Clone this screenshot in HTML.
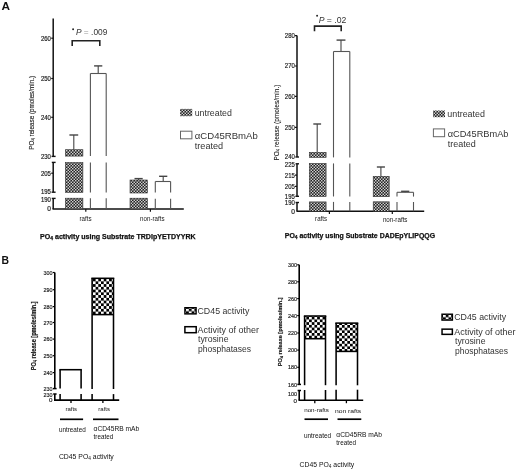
<!DOCTYPE html>
<html><head><meta charset="utf-8"><title>Figure</title>
<style>
html,body{margin:0;padding:0;background:#fff;}
body{width:520px;height:471px;overflow:hidden;}
svg{display:block;font-family:"Liberation Sans", sans-serif;will-change:transform;}
</style></head><body>
<svg width="520" height="471" viewBox="0 0 520 471">
<defs>
<pattern id="hA" width="3" height="3" patternUnits="userSpaceOnUse">
<rect width="3" height="3" fill="#222"/><rect x="0.05" y="0.05" width="1.4" height="1.4" fill="#e0e0e0"/><rect x="1.55" y="1.55" width="1.4" height="1.4" fill="#e0e0e0"/>
</pattern>
<pattern id="cB1" x="92.9" y="278.6" width="5.4" height="5.5" patternUnits="userSpaceOnUse">
<rect width="5.4" height="5.5" fill="#000"/><rect x="2.7" y="0" width="2.7" height="2.75" fill="#fff"/><rect x="0" y="2.75" width="2.7" height="2.75" fill="#fff"/>
</pattern>
<pattern id="cB2" x="306.35" y="316.75" width="5.4" height="5.42" patternUnits="userSpaceOnUse">
<rect width="5.4" height="5.42" fill="#000"/><rect x="2.7" y="0" width="2.7" height="2.71" fill="#fff"/><rect x="0" y="2.71" width="2.7" height="2.71" fill="#fff"/>
</pattern>
<pattern id="cB3" x="336.5" y="325.05" width="5.4" height="5.34" patternUnits="userSpaceOnUse">
<rect width="5.4" height="5.34" fill="#000"/><rect x="2.7" y="0" width="2.7" height="2.67" fill="#fff"/><rect x="0" y="2.67" width="2.7" height="2.67" fill="#fff"/>
</pattern>
<pattern id="cL" x="186" y="308.8" width="5.6" height="4.8" patternUnits="userSpaceOnUse">
<rect width="5.6" height="4.8" fill="#000"/><rect x="0" y="0" width="2.8" height="2.4" fill="#fff"/><rect x="2.8" y="2.4" width="2.8" height="2.4" fill="#fff"/>
</pattern>
<pattern id="cL2" x="443" y="315" width="5.5" height="4.4" patternUnits="userSpaceOnUse">
<rect width="5.5" height="4.4" fill="#000"/><rect x="0" y="0" width="2.75" height="2.2" fill="#fff"/><rect x="2.75" y="2.2" width="2.75" height="2.2" fill="#fff"/>
</pattern>
</defs>
<text x="1.5" y="10.3" font-size="11.8" text-anchor="start" font-weight="bold" fill="#111" >A</text>
<text x="1.6" y="263.8" font-size="10.4" text-anchor="start" font-weight="bold" fill="#111" >B</text>
<line x1="53.2" y1="18.5" x2="53.2" y2="156.4" stroke="#111" stroke-width="1.5"/>
<line x1="53.2" y1="162.4" x2="53.2" y2="192.2" stroke="#111" stroke-width="1.5"/>
<line x1="53.2" y1="198.4" x2="53.2" y2="209" stroke="#111" stroke-width="1.5"/>
<line x1="51.6" y1="156.4" x2="55.6" y2="156.4" stroke="#111" stroke-width="1.4"/>
<line x1="51.8" y1="162.4" x2="55.6" y2="162.4" stroke="#111" stroke-width="1.4"/>
<line x1="51.6" y1="192.2" x2="55.6" y2="192.2" stroke="#111" stroke-width="1.4"/>
<line x1="51.8" y1="198.4" x2="55.6" y2="198.4" stroke="#111" stroke-width="1.4"/>
<line x1="51.2" y1="38.2" x2="53.2" y2="38.2" stroke="#111" stroke-width="1.2"/>
<line x1="51.2" y1="78.5" x2="53.2" y2="78.5" stroke="#111" stroke-width="1.2"/>
<line x1="51.2" y1="117.3" x2="53.2" y2="117.3" stroke="#111" stroke-width="1.2"/>
<line x1="51.2" y1="173.2" x2="53.2" y2="173.2" stroke="#111" stroke-width="1.2"/>
<text x="50.9" y="40.5" font-size="6.6" text-anchor="end" font-weight="normal" fill="#1a1a1a" textLength="10.0" lengthAdjust="spacingAndGlyphs" stroke="#1a1a1a" stroke-width="0.18">260</text>
<text x="50.9" y="80.8" font-size="6.6" text-anchor="end" font-weight="normal" fill="#1a1a1a" textLength="10.0" lengthAdjust="spacingAndGlyphs" stroke="#1a1a1a" stroke-width="0.18">250</text>
<text x="50.9" y="119.6" font-size="6.6" text-anchor="end" font-weight="normal" fill="#1a1a1a" textLength="10.0" lengthAdjust="spacingAndGlyphs" stroke="#1a1a1a" stroke-width="0.18">240</text>
<text x="50.9" y="158.70000000000002" font-size="6.6" text-anchor="end" font-weight="normal" fill="#1a1a1a" textLength="10.0" lengthAdjust="spacingAndGlyphs" stroke="#1a1a1a" stroke-width="0.18">230</text>
<text x="50.9" y="175.70000000000002" font-size="6.6" text-anchor="end" font-weight="normal" fill="#1a1a1a" textLength="10.0" lengthAdjust="spacingAndGlyphs" stroke="#1a1a1a" stroke-width="0.18">205</text>
<text x="50.9" y="194.3" font-size="6.6" text-anchor="end" font-weight="normal" fill="#1a1a1a" textLength="10.0" lengthAdjust="spacingAndGlyphs" stroke="#1a1a1a" stroke-width="0.18">195</text>
<text x="50.9" y="201.9" font-size="6.6" text-anchor="end" font-weight="normal" fill="#1a1a1a" textLength="10.0" lengthAdjust="spacingAndGlyphs" stroke="#1a1a1a" stroke-width="0.18">190</text>
<text x="50.9" y="211.10000000000002" font-size="6.6" text-anchor="end" font-weight="normal" fill="#1a1a1a" stroke="#1a1a1a" stroke-width="0.18">0</text>
<line x1="52.5" y1="209" x2="183.8" y2="209" stroke="#111" stroke-width="1.6"/>
<line x1="85.8" y1="209" x2="85.8" y2="211.8" stroke="#111" stroke-width="1.2"/>
<line x1="150.4" y1="209" x2="150.4" y2="211.8" stroke="#111" stroke-width="1.2"/>
<text x="85.5" y="221.2" font-size="6.4" text-anchor="middle" font-weight="normal" fill="#1a1a1a" textLength="12.1" lengthAdjust="spacingAndGlyphs" >rafts</text>
<text x="152.3" y="221.4" font-size="6.4" text-anchor="middle" font-weight="normal" fill="#1a1a1a" textLength="24.4" lengthAdjust="spacingAndGlyphs" >non-rafts</text>
<text transform="translate(34.4,149.7) rotate(-90)" x="0" y="0" font-size="6.6" font-weight="normal" fill="#222" textLength="73.7" lengthAdjust="spacingAndGlyphs" stroke="#222" stroke-width="0.12">PO<tspan font-size="4.5" dy="1">4</tspan><tspan dy="-1"> release (pmoles/min.)</tspan></text>
<line x1="73.8" y1="149.7" x2="73.8" y2="135" stroke="#444" stroke-width="1.1"/>
<line x1="69.39999999999999" y1="135" x2="78.2" y2="135" stroke="#444" stroke-width="1.4000000000000001"/>
<rect x="65.4" y="149.7" width="17.5" height="6.400000000000006" fill="url(#hA)" stroke="#333" stroke-width="0.6"/>
<rect x="65.4" y="162.5" width="17.5" height="29.900000000000006" fill="url(#hA)" stroke="#333" stroke-width="0.6"/>
<rect x="65.4" y="198.2" width="17.5" height="10.800000000000011" fill="url(#hA)" stroke="#333" stroke-width="0.6"/>
<line x1="98.2" y1="73.5" x2="98.2" y2="65.9" stroke="#444" stroke-width="1.1"/>
<line x1="94.10000000000001" y1="65.9" x2="102.3" y2="65.9" stroke="#444" stroke-width="1.4000000000000001"/>
<line x1="90.4" y1="73.5" x2="106.2" y2="73.5" stroke="#555" stroke-width="1.1"/>
<line x1="90.4" y1="73.5" x2="90.4" y2="156.1" stroke="#555" stroke-width="1.1"/>
<line x1="106.2" y1="73.5" x2="106.2" y2="156.1" stroke="#555" stroke-width="1.1"/>
<line x1="90.4" y1="162.5" x2="90.4" y2="192.4" stroke="#555" stroke-width="1.1"/>
<line x1="106.2" y1="162.5" x2="106.2" y2="192.4" stroke="#555" stroke-width="1.1"/>
<line x1="90.4" y1="198.2" x2="90.4" y2="209" stroke="#555" stroke-width="1.1"/>
<line x1="106.2" y1="198.2" x2="106.2" y2="209" stroke="#555" stroke-width="1.1"/>
<line x1="138.6" y1="180" x2="138.6" y2="178.6" stroke="#444" stroke-width="1.1"/>
<line x1="134.5" y1="178.6" x2="142.7" y2="178.6" stroke="#444" stroke-width="1.4000000000000001"/>
<rect x="130" y="180" width="17.400000000000006" height="13" fill="url(#hA)" stroke="#333" stroke-width="0.6"/>
<rect x="130" y="198.2" width="17.400000000000006" height="10.800000000000011" fill="url(#hA)" stroke="#333" stroke-width="0.6"/>
<line x1="163.2" y1="181.5" x2="163.2" y2="176.3" stroke="#444" stroke-width="1.1"/>
<line x1="159.1" y1="176.3" x2="167.29999999999998" y2="176.3" stroke="#444" stroke-width="1.4000000000000001"/>
<line x1="155.3" y1="181.5" x2="170.6" y2="181.5" stroke="#555" stroke-width="1.1"/>
<line x1="155.3" y1="181.5" x2="155.3" y2="192.6" stroke="#555" stroke-width="1.1"/>
<line x1="170.6" y1="181.5" x2="170.6" y2="192.6" stroke="#555" stroke-width="1.1"/>
<line x1="155.3" y1="198.8" x2="155.3" y2="209" stroke="#555" stroke-width="1.1"/>
<line x1="170.6" y1="198.8" x2="170.6" y2="209" stroke="#555" stroke-width="1.1"/>
<circle cx="73.1" cy="29.3" r="0.95" fill="#222"/>
<text x="76" y="34.9" font-size="8.3" fill="#333" textLength="31.3" lengthAdjust="spacingAndGlyphs"><tspan font-style="italic">P</tspan> <tspan fill="#999">=</tspan> .009</text>
<path d="M72.2 46 V40.7 H99.8 V46" fill="none" stroke="#222" stroke-width="1.6"/>
<rect x="180.1" y="108.9" width="12.1" height="7.3" fill="url(#hA)" stroke="none" stroke-width="1"/>
<text x="194.7" y="115.8" font-size="8.8" text-anchor="start" font-weight="normal" fill="#333" textLength="37.2" lengthAdjust="spacingAndGlyphs" >untreated</text>
<rect x="180.5" y="131.2" width="11.4" height="7.6" fill="#fff" stroke="#666" stroke-width="1"/>
<text x="194.8" y="139.0" font-size="8.7" text-anchor="start" font-weight="normal" fill="#333" textLength="63" lengthAdjust="spacingAndGlyphs" >αCD45RBmAb</text>
<text x="194.8" y="149.0" font-size="8.8" text-anchor="start" font-weight="normal" fill="#333" textLength="28.4" lengthAdjust="spacingAndGlyphs" >treated</text>
<text x="40.1" y="238.8" font-size="7" font-weight="bold" fill="#111" stroke="#111" stroke-width="0.25" textLength="155.5" lengthAdjust="spacingAndGlyphs">PO<tspan font-size="5" dy="1">4</tspan><tspan dy="-1"> activity using Substrate TRDIpYETDYYRK</tspan></text>
<line x1="297" y1="35.5" x2="297" y2="157" stroke="#111" stroke-width="1.5"/>
<line x1="297" y1="163.8" x2="297" y2="196.3" stroke="#111" stroke-width="1.5"/>
<line x1="297" y1="202.5" x2="297" y2="211.3" stroke="#111" stroke-width="1.5"/>
<line x1="295.4" y1="157" x2="299" y2="157" stroke="#111" stroke-width="1.4"/>
<line x1="295.6" y1="163.8" x2="299" y2="163.8" stroke="#111" stroke-width="1.4"/>
<line x1="295.4" y1="196.3" x2="299" y2="196.3" stroke="#111" stroke-width="1.4"/>
<line x1="295.6" y1="202.5" x2="299" y2="202.5" stroke="#111" stroke-width="1.4"/>
<line x1="295" y1="35.7" x2="297" y2="35.7" stroke="#111" stroke-width="1.2"/>
<line x1="295" y1="66" x2="297" y2="66" stroke="#111" stroke-width="1.2"/>
<line x1="295" y1="96.3" x2="297" y2="96.3" stroke="#111" stroke-width="1.2"/>
<line x1="295" y1="127.4" x2="297" y2="127.4" stroke="#111" stroke-width="1.2"/>
<line x1="295" y1="175.2" x2="297" y2="175.2" stroke="#111" stroke-width="1.2"/>
<line x1="295" y1="186.4" x2="297" y2="186.4" stroke="#111" stroke-width="1.2"/>
<text x="294.8" y="38.0" font-size="6.6" text-anchor="end" font-weight="normal" fill="#1a1a1a" textLength="10.0" lengthAdjust="spacingAndGlyphs" stroke="#1a1a1a" stroke-width="0.18">280</text>
<text x="294.8" y="68.3" font-size="6.6" text-anchor="end" font-weight="normal" fill="#1a1a1a" textLength="10.0" lengthAdjust="spacingAndGlyphs" stroke="#1a1a1a" stroke-width="0.18">270</text>
<text x="294.8" y="98.6" font-size="6.6" text-anchor="end" font-weight="normal" fill="#1a1a1a" textLength="10.0" lengthAdjust="spacingAndGlyphs" stroke="#1a1a1a" stroke-width="0.18">260</text>
<text x="294.8" y="129.70000000000002" font-size="6.6" text-anchor="end" font-weight="normal" fill="#1a1a1a" textLength="10.0" lengthAdjust="spacingAndGlyphs" stroke="#1a1a1a" stroke-width="0.18">250</text>
<text x="294.8" y="159.3" font-size="6.6" text-anchor="end" font-weight="normal" fill="#1a1a1a" textLength="10.0" lengthAdjust="spacingAndGlyphs" stroke="#1a1a1a" stroke-width="0.18">240</text>
<text x="294.8" y="166.5" font-size="6.6" text-anchor="end" font-weight="normal" fill="#1a1a1a" textLength="10.0" lengthAdjust="spacingAndGlyphs" stroke="#1a1a1a" stroke-width="0.18">225</text>
<text x="294.8" y="177.5" font-size="6.6" text-anchor="end" font-weight="normal" fill="#1a1a1a" textLength="10.0" lengthAdjust="spacingAndGlyphs" stroke="#1a1a1a" stroke-width="0.18">215</text>
<text x="294.8" y="188.70000000000002" font-size="6.6" text-anchor="end" font-weight="normal" fill="#1a1a1a" textLength="10.0" lengthAdjust="spacingAndGlyphs" stroke="#1a1a1a" stroke-width="0.18">205</text>
<text x="294.8" y="198.60000000000002" font-size="6.6" text-anchor="end" font-weight="normal" fill="#1a1a1a" textLength="10.0" lengthAdjust="spacingAndGlyphs" stroke="#1a1a1a" stroke-width="0.18">195</text>
<text x="294.8" y="205.3" font-size="6.6" text-anchor="end" font-weight="normal" fill="#1a1a1a" textLength="10.0" lengthAdjust="spacingAndGlyphs" stroke="#1a1a1a" stroke-width="0.18">190</text>
<text x="294.8" y="213.5" font-size="6.6" text-anchor="end" font-weight="normal" fill="#1a1a1a" stroke="#1a1a1a" stroke-width="0.18">0</text>
<line x1="296.5" y1="211.3" x2="424.2" y2="211.3" stroke="#111" stroke-width="1.6"/>
<line x1="329.4" y1="211.3" x2="329.4" y2="214" stroke="#111" stroke-width="1.2"/>
<line x1="392.3" y1="211.3" x2="392.3" y2="214" stroke="#111" stroke-width="1.2"/>
<text x="321.1" y="221.4" font-size="6.4" text-anchor="middle" font-weight="normal" fill="#1a1a1a" textLength="12" lengthAdjust="spacingAndGlyphs" >rafts</text>
<text x="395.2" y="221.8" font-size="6.4" text-anchor="middle" font-weight="normal" fill="#1a1a1a" textLength="24.6" lengthAdjust="spacingAndGlyphs" >non-rafts</text>
<text transform="translate(278.8,160.6) rotate(-90)" x="0" y="0" font-size="7.4" font-weight="normal" fill="#222" textLength="76" lengthAdjust="spacingAndGlyphs" stroke="#222" stroke-width="0.12">PO<tspan font-size="4.8" dy="1">4</tspan><tspan dy="-1"> release (pmoles/min.)</tspan></text>
<line x1="317.2" y1="152.3" x2="317.2" y2="124" stroke="#444" stroke-width="1.1"/>
<line x1="313.3" y1="124" x2="321.09999999999997" y2="124" stroke="#444" stroke-width="1.4000000000000001"/>
<rect x="309.3" y="152.3" width="16.80000000000001" height="5.099999999999994" fill="url(#hA)" stroke="#333" stroke-width="0.6"/>
<rect x="309.3" y="163.4" width="16.80000000000001" height="33.099999999999994" fill="url(#hA)" stroke="#333" stroke-width="0.6"/>
<rect x="309.3" y="201.9" width="16.80000000000001" height="9.400000000000006" fill="url(#hA)" stroke="#333" stroke-width="0.6"/>
<line x1="341" y1="51.5" x2="341" y2="40.1" stroke="#444" stroke-width="1.1"/>
<line x1="336.55" y1="40.1" x2="345.45" y2="40.1" stroke="#444" stroke-width="1.4000000000000001"/>
<line x1="333.5" y1="51.5" x2="349.8" y2="51.5" stroke="#555" stroke-width="1.1"/>
<line x1="333.5" y1="51.5" x2="333.5" y2="157.4" stroke="#555" stroke-width="1.1"/>
<line x1="349.8" y1="51.5" x2="349.8" y2="157.4" stroke="#555" stroke-width="1.1"/>
<line x1="333.5" y1="163.4" x2="333.5" y2="196.5" stroke="#555" stroke-width="1.1"/>
<line x1="349.8" y1="163.4" x2="349.8" y2="196.5" stroke="#555" stroke-width="1.1"/>
<line x1="333.5" y1="201.9" x2="333.5" y2="211.3" stroke="#555" stroke-width="1.1"/>
<line x1="349.8" y1="201.9" x2="349.8" y2="211.3" stroke="#555" stroke-width="1.1"/>
<line x1="380.9" y1="176.3" x2="380.9" y2="167" stroke="#444" stroke-width="1.1"/>
<line x1="376.84999999999997" y1="167" x2="384.95" y2="167" stroke="#444" stroke-width="1.4000000000000001"/>
<rect x="373.2" y="176.3" width="16.0" height="20.399999999999977" fill="url(#hA)" stroke="#333" stroke-width="0.6"/>
<rect x="373.2" y="201.8" width="16.0" height="9.5" fill="url(#hA)" stroke="#333" stroke-width="0.6"/>
<line x1="405.2" y1="192.3" x2="405.2" y2="191.3" stroke="#444" stroke-width="1.1"/>
<line x1="401.09999999999997" y1="191.3" x2="409.3" y2="191.3" stroke="#444" stroke-width="1.4000000000000001"/>
<line x1="397" y1="192.3" x2="413.5" y2="192.3" stroke="#555" stroke-width="1.1"/>
<line x1="397" y1="192.3" x2="397" y2="196.6" stroke="#555" stroke-width="1.1"/>
<line x1="413.5" y1="192.3" x2="413.5" y2="196.6" stroke="#555" stroke-width="1.1"/>
<line x1="397" y1="202" x2="397" y2="211.3" stroke="#555" stroke-width="1.1"/>
<line x1="413.5" y1="202" x2="413.5" y2="211.3" stroke="#555" stroke-width="1.1"/>
<circle cx="317.1" cy="15.8" r="0.95" fill="#222"/>
<text x="318.7" y="22.7" font-size="8.5" fill="#333" textLength="27.6" lengthAdjust="spacingAndGlyphs"><tspan font-style="italic">P</tspan> = .02</text>
<path d="M314.5 31.2 V26.1 H341.2 V31.2" fill="none" stroke="#222" stroke-width="1.6"/>
<rect x="433" y="110.5" width="12" height="6.7" fill="url(#hA)" stroke="none" stroke-width="1"/>
<text x="447.3" y="116.6" font-size="8.8" text-anchor="start" font-weight="normal" fill="#333" textLength="37.7" lengthAdjust="spacingAndGlyphs" >untreated</text>
<rect x="433.4" y="128.9" width="11.2" height="7.8" fill="#fff" stroke="#666" stroke-width="1"/>
<text x="447.7" y="136.8" font-size="8.8" text-anchor="start" font-weight="normal" fill="#333" textLength="60.8" lengthAdjust="spacingAndGlyphs" >αCD45RBmAb</text>
<text x="447.7" y="146.9" font-size="8.8" text-anchor="start" font-weight="normal" fill="#333" textLength="28" lengthAdjust="spacingAndGlyphs" >treated</text>
<text x="284.8" y="238.1" font-size="7" font-weight="bold" fill="#111" stroke="#111" stroke-width="0.25" textLength="150.3" lengthAdjust="spacingAndGlyphs">PO<tspan font-size="5" dy="1">4</tspan><tspan dy="-1"> activity using Substrate DADEpYLIPQQG</tspan></text>
<line x1="54.8" y1="272.5" x2="54.8" y2="388.6" stroke="#000" stroke-width="1.6"/>
<line x1="54.8" y1="394" x2="54.8" y2="400" stroke="#000" stroke-width="1.6"/>
<line x1="53" y1="388.6" x2="56.6" y2="388.6" stroke="#000" stroke-width="1.5"/>
<line x1="53.2" y1="394" x2="56.6" y2="394" stroke="#000" stroke-width="1.5"/>
<line x1="52.8" y1="272.5" x2="54.8" y2="272.5" stroke="#000" stroke-width="1.2"/>
<line x1="52.8" y1="289.7" x2="54.8" y2="289.7" stroke="#000" stroke-width="1.2"/>
<line x1="52.8" y1="306.6" x2="54.8" y2="306.6" stroke="#000" stroke-width="1.2"/>
<line x1="52.8" y1="322.5" x2="54.8" y2="322.5" stroke="#000" stroke-width="1.2"/>
<line x1="52.8" y1="339.1" x2="54.8" y2="339.1" stroke="#000" stroke-width="1.2"/>
<line x1="52.8" y1="355.7" x2="54.8" y2="355.7" stroke="#000" stroke-width="1.2"/>
<line x1="52.8" y1="372.6" x2="54.8" y2="372.6" stroke="#000" stroke-width="1.2"/>
<text x="52.4" y="274.6" font-size="6.2" text-anchor="end" font-weight="normal" fill="#1a1a1a" textLength="9.0" lengthAdjust="spacingAndGlyphs" stroke="#1a1a1a" stroke-width="0.18">300</text>
<text x="52.4" y="291.8" font-size="6.2" text-anchor="end" font-weight="normal" fill="#1a1a1a" textLength="9.0" lengthAdjust="spacingAndGlyphs" stroke="#1a1a1a" stroke-width="0.18">290</text>
<text x="52.4" y="308.70000000000005" font-size="6.2" text-anchor="end" font-weight="normal" fill="#1a1a1a" textLength="9.0" lengthAdjust="spacingAndGlyphs" stroke="#1a1a1a" stroke-width="0.18">280</text>
<text x="52.4" y="324.6" font-size="6.2" text-anchor="end" font-weight="normal" fill="#1a1a1a" textLength="9.0" lengthAdjust="spacingAndGlyphs" stroke="#1a1a1a" stroke-width="0.18">270</text>
<text x="52.4" y="341.20000000000005" font-size="6.2" text-anchor="end" font-weight="normal" fill="#1a1a1a" textLength="9.0" lengthAdjust="spacingAndGlyphs" stroke="#1a1a1a" stroke-width="0.18">260</text>
<text x="52.4" y="357.8" font-size="6.2" text-anchor="end" font-weight="normal" fill="#1a1a1a" textLength="9.0" lengthAdjust="spacingAndGlyphs" stroke="#1a1a1a" stroke-width="0.18">250</text>
<text x="52.4" y="374.70000000000005" font-size="6.2" text-anchor="end" font-weight="normal" fill="#1a1a1a" textLength="9.0" lengthAdjust="spacingAndGlyphs" stroke="#1a1a1a" stroke-width="0.18">240</text>
<text x="52.4" y="390.70000000000005" font-size="6.2" text-anchor="end" font-weight="normal" fill="#1a1a1a" textLength="9.0" lengthAdjust="spacingAndGlyphs" stroke="#1a1a1a" stroke-width="0.18">230</text>
<text x="52.4" y="397.1" font-size="6.2" text-anchor="end" font-weight="normal" fill="#1a1a1a" textLength="9.0" lengthAdjust="spacingAndGlyphs" stroke="#1a1a1a" stroke-width="0.18">230</text>
<text x="52.4" y="402.1" font-size="6.2" text-anchor="end" font-weight="normal" fill="#1a1a1a" stroke="#1a1a1a" stroke-width="0.18">0</text>
<line x1="54" y1="400.1" x2="119.2" y2="400.1" stroke="#000" stroke-width="1.6"/>
<line x1="71" y1="400" x2="71" y2="403" stroke="#000" stroke-width="1.3"/>
<line x1="102.9" y1="400" x2="102.9" y2="403" stroke="#000" stroke-width="1.3"/>
<line x1="59.325" y1="369.7" x2="81.875" y2="369.7" stroke="#000" stroke-width="1.55"/>
<line x1="60.1" y1="369.7" x2="60.1" y2="388.6" stroke="#000" stroke-width="1.55"/>
<line x1="81.1" y1="369.7" x2="81.1" y2="388.6" stroke="#000" stroke-width="1.55"/>
<line x1="60.1" y1="394" x2="60.1" y2="400" stroke="#000" stroke-width="1.55"/>
<line x1="81.1" y1="394" x2="81.1" y2="400" stroke="#000" stroke-width="1.55"/>
<rect x="92.1" y="278.3" width="21.400000000000006" height="36.30000000000001" fill="url(#cB1)" stroke="none" stroke-width="1"/>
<line x1="92.1" y1="314.6" x2="113.5" y2="314.6" stroke="#000" stroke-width="1.55"/>
<line x1="91.32499999999999" y1="278.3" x2="114.275" y2="278.3" stroke="#000" stroke-width="1.55"/>
<line x1="92.1" y1="278.3" x2="92.1" y2="389" stroke="#000" stroke-width="1.55"/>
<line x1="113.5" y1="278.3" x2="113.5" y2="389" stroke="#000" stroke-width="1.55"/>
<line x1="92.1" y1="394.1" x2="92.1" y2="400" stroke="#000" stroke-width="1.55"/>
<line x1="113.5" y1="394.1" x2="113.5" y2="400" stroke="#000" stroke-width="1.55"/>
<text x="71.3" y="411.3" font-size="6" text-anchor="middle" font-weight="normal" fill="#111" >rafts</text>
<text x="104.2" y="411.2" font-size="6" text-anchor="middle" font-weight="normal" fill="#111" >rafts</text>
<line x1="60" y1="419.3" x2="83.1" y2="419.3" stroke="#000" stroke-width="1.7"/>
<line x1="93" y1="419.3" x2="118.5" y2="419.3" stroke="#000" stroke-width="1.7"/>
<text x="58.9" y="431.5" font-size="6.3" text-anchor="start" font-weight="normal" fill="#111" textLength="26.8" lengthAdjust="spacingAndGlyphs" >untreated</text>
<text x="93.6" y="431.4" font-size="6.3" text-anchor="start" font-weight="normal" fill="#111" textLength="45.5" lengthAdjust="spacingAndGlyphs" >αCD45RB mAb</text>
<text x="93.6" y="438.9" font-size="6.3" text-anchor="start" font-weight="normal" fill="#111" textLength="19.6" lengthAdjust="spacingAndGlyphs" >treated</text>
<text x="58.9" y="458.9" font-size="6.6" fill="#111" textLength="54.9" lengthAdjust="spacingAndGlyphs">CD45 PO<tspan font-size="4.6" dy="1">4</tspan><tspan dy="-1"> activity</tspan></text>
<text transform="translate(36.3,370.3) rotate(-90)" x="0" y="0" font-size="6.5" font-weight="bold" fill="#111" textLength="69.0" lengthAdjust="spacingAndGlyphs" stroke="#111" stroke-width="0.15">PO<tspan font-size="4.5" dy="1">4</tspan><tspan dy="-1"> release [pmoles/min.]</tspan></text>
<rect x="184.9" y="307.7" width="11.2" height="6.2" fill="url(#cL)" stroke="#000" stroke-width="1.4"/>
<text x="197.5" y="313.8" font-size="9" text-anchor="start" font-weight="normal" fill="#333" textLength="51.9" lengthAdjust="spacingAndGlyphs" >CD45 activity</text>
<rect x="184.9" y="326.7" width="11.3" height="6.0" fill="#fff" stroke="#000" stroke-width="1.5"/>
<text x="197.5" y="332.5" font-size="9" text-anchor="start" font-weight="normal" fill="#333" textLength="61.4" lengthAdjust="spacingAndGlyphs" >Activity of other</text>
<text x="198" y="342.4" font-size="9" text-anchor="start" font-weight="normal" fill="#333" textLength="30.5" lengthAdjust="spacingAndGlyphs" >tyrosine</text>
<text x="198" y="351.9" font-size="9" text-anchor="start" font-weight="normal" fill="#333" textLength="53.1" lengthAdjust="spacingAndGlyphs" >phosphatases</text>
<line x1="299.2" y1="264.8" x2="299.2" y2="384.4" stroke="#000" stroke-width="1.6"/>
<line x1="299.2" y1="390.5" x2="299.2" y2="400.2" stroke="#000" stroke-width="1.6"/>
<line x1="297.4" y1="384.4" x2="301" y2="384.4" stroke="#000" stroke-width="1.5"/>
<line x1="297.6" y1="390.5" x2="301" y2="390.5" stroke="#000" stroke-width="1.5"/>
<line x1="297.2" y1="264.8" x2="299.2" y2="264.8" stroke="#000" stroke-width="1.2"/>
<line x1="297.2" y1="281.8" x2="299.2" y2="281.8" stroke="#000" stroke-width="1.2"/>
<line x1="297.2" y1="298.6" x2="299.2" y2="298.6" stroke="#000" stroke-width="1.2"/>
<line x1="297.2" y1="315.6" x2="299.2" y2="315.6" stroke="#000" stroke-width="1.2"/>
<line x1="297.2" y1="333" x2="299.2" y2="333" stroke="#000" stroke-width="1.2"/>
<line x1="297.2" y1="350.1" x2="299.2" y2="350.1" stroke="#000" stroke-width="1.2"/>
<line x1="297.2" y1="367.3" x2="299.2" y2="367.3" stroke="#000" stroke-width="1.2"/>
<text x="297" y="266.90000000000003" font-size="6.2" text-anchor="end" font-weight="normal" fill="#1a1a1a" textLength="9.0" lengthAdjust="spacingAndGlyphs" stroke="#1a1a1a" stroke-width="0.18">300</text>
<text x="297" y="283.90000000000003" font-size="6.2" text-anchor="end" font-weight="normal" fill="#1a1a1a" textLength="9.0" lengthAdjust="spacingAndGlyphs" stroke="#1a1a1a" stroke-width="0.18">280</text>
<text x="297" y="300.70000000000005" font-size="6.2" text-anchor="end" font-weight="normal" fill="#1a1a1a" textLength="9.0" lengthAdjust="spacingAndGlyphs" stroke="#1a1a1a" stroke-width="0.18">260</text>
<text x="297" y="317.70000000000005" font-size="6.2" text-anchor="end" font-weight="normal" fill="#1a1a1a" textLength="9.0" lengthAdjust="spacingAndGlyphs" stroke="#1a1a1a" stroke-width="0.18">240</text>
<text x="297" y="335.1" font-size="6.2" text-anchor="end" font-weight="normal" fill="#1a1a1a" textLength="9.0" lengthAdjust="spacingAndGlyphs" stroke="#1a1a1a" stroke-width="0.18">220</text>
<text x="297" y="352.20000000000005" font-size="6.2" text-anchor="end" font-weight="normal" fill="#1a1a1a" textLength="9.0" lengthAdjust="spacingAndGlyphs" stroke="#1a1a1a" stroke-width="0.18">200</text>
<text x="297" y="369.40000000000003" font-size="6.2" text-anchor="end" font-weight="normal" fill="#1a1a1a" textLength="9.0" lengthAdjust="spacingAndGlyphs" stroke="#1a1a1a" stroke-width="0.18">180</text>
<text x="297" y="386.5" font-size="6.2" text-anchor="end" font-weight="normal" fill="#1a1a1a" textLength="9.0" lengthAdjust="spacingAndGlyphs" stroke="#1a1a1a" stroke-width="0.18">160</text>
<text x="297" y="396.20000000000005" font-size="6.2" text-anchor="end" font-weight="normal" fill="#1a1a1a" textLength="9.0" lengthAdjust="spacingAndGlyphs" stroke="#1a1a1a" stroke-width="0.18">100</text>
<text x="297" y="402.6" font-size="6.2" text-anchor="end" font-weight="normal" fill="#1a1a1a" stroke="#1a1a1a" stroke-width="0.18">0</text>
<line x1="298.5" y1="400.2" x2="363.2" y2="400.2" stroke="#000" stroke-width="1.6"/>
<line x1="314.8" y1="400.2" x2="314.8" y2="403.2" stroke="#000" stroke-width="1.3"/>
<line x1="346.4" y1="400.2" x2="346.4" y2="403.2" stroke="#000" stroke-width="1.3"/>
<rect x="304.6" y="316" width="20.899999999999977" height="22.69999999999999" fill="url(#cB2)" stroke="none" stroke-width="1"/>
<line x1="304.6" y1="338.7" x2="325.5" y2="338.7" stroke="#000" stroke-width="1.55"/>
<line x1="303.82500000000005" y1="316" x2="326.275" y2="316" stroke="#000" stroke-width="1.55"/>
<line x1="304.6" y1="316" x2="304.6" y2="385.2" stroke="#000" stroke-width="1.55"/>
<line x1="325.5" y1="316" x2="325.5" y2="385.2" stroke="#000" stroke-width="1.55"/>
<line x1="304.6" y1="390" x2="304.6" y2="400.2" stroke="#000" stroke-width="1.55"/>
<line x1="325.5" y1="390" x2="325.5" y2="400.2" stroke="#000" stroke-width="1.55"/>
<rect x="336.1" y="323.1" width="21.399999999999977" height="28.299999999999955" fill="url(#cB3)" stroke="none" stroke-width="1"/>
<line x1="336.1" y1="351.4" x2="357.5" y2="351.4" stroke="#000" stroke-width="1.55"/>
<line x1="335.32500000000005" y1="323.1" x2="358.275" y2="323.1" stroke="#000" stroke-width="1.55"/>
<line x1="336.1" y1="323.1" x2="336.1" y2="385.3" stroke="#000" stroke-width="1.55"/>
<line x1="357.5" y1="323.1" x2="357.5" y2="385.3" stroke="#000" stroke-width="1.55"/>
<line x1="336.1" y1="389.7" x2="336.1" y2="400.2" stroke="#000" stroke-width="1.55"/>
<line x1="357.5" y1="389.7" x2="357.5" y2="400.2" stroke="#000" stroke-width="1.55"/>
<text x="316.5" y="412.2" font-size="6" text-anchor="middle" font-weight="normal" fill="#111" textLength="24.6" lengthAdjust="spacingAndGlyphs" >non-rafts</text>
<text x="348.1" y="412.6" font-size="6" text-anchor="middle" font-weight="normal" fill="#111" textLength="26.3" lengthAdjust="spacingAndGlyphs" >non rafts</text>
<line x1="304.5" y1="419.2" x2="328" y2="419.2" stroke="#000" stroke-width="1.7"/>
<line x1="337.5" y1="419.2" x2="361.3" y2="419.2" stroke="#000" stroke-width="1.7"/>
<text x="303.9" y="438.2" font-size="6.3" text-anchor="start" font-weight="normal" fill="#111" textLength="27.3" lengthAdjust="spacingAndGlyphs" >untreated</text>
<text x="336.3" y="437.2" font-size="6.3" text-anchor="start" font-weight="normal" fill="#111" textLength="45.6" lengthAdjust="spacingAndGlyphs" >αCD45RB mAb</text>
<text x="336.3" y="444.5" font-size="6.3" text-anchor="start" font-weight="normal" fill="#111" textLength="19.7" lengthAdjust="spacingAndGlyphs" >treated</text>
<text x="299.6" y="466.9" font-size="6.6" fill="#111" textLength="54.6" lengthAdjust="spacingAndGlyphs">CD45 PO<tspan font-size="4.6" dy="1">4</tspan><tspan dy="-1"> activity</tspan></text>
<text transform="translate(281.9,366.2) rotate(-90)" x="0" y="0" font-size="6.0" font-weight="bold" fill="#111" textLength="68.8" lengthAdjust="spacingAndGlyphs" stroke="#111" stroke-width="0.15">PO<tspan font-size="4.3" dy="1">4</tspan><tspan dy="-1"> release [pmoles/min.]</tspan></text>
<rect x="442.0" y="314.2" width="10.4" height="5.9" fill="url(#cL2)" stroke="#000" stroke-width="1.4"/>
<text x="454.2" y="319.7" font-size="9" text-anchor="start" font-weight="normal" fill="#333" textLength="51.9" lengthAdjust="spacingAndGlyphs" >CD45 activity</text>
<rect x="442.05" y="329.15" width="10.3" height="5.2" fill="#fff" stroke="#000" stroke-width="1.5"/>
<text x="454.2" y="334.8" font-size="9" text-anchor="start" font-weight="normal" fill="#333" textLength="61.4" lengthAdjust="spacingAndGlyphs" >Activity of other</text>
<text x="455" y="344.4" font-size="9" text-anchor="start" font-weight="normal" fill="#333" textLength="30.5" lengthAdjust="spacingAndGlyphs" >tyrosine</text>
<text x="455" y="354.3" font-size="9" text-anchor="start" font-weight="normal" fill="#333" textLength="53" lengthAdjust="spacingAndGlyphs" >phosphatases</text>
</svg>
</body></html>
